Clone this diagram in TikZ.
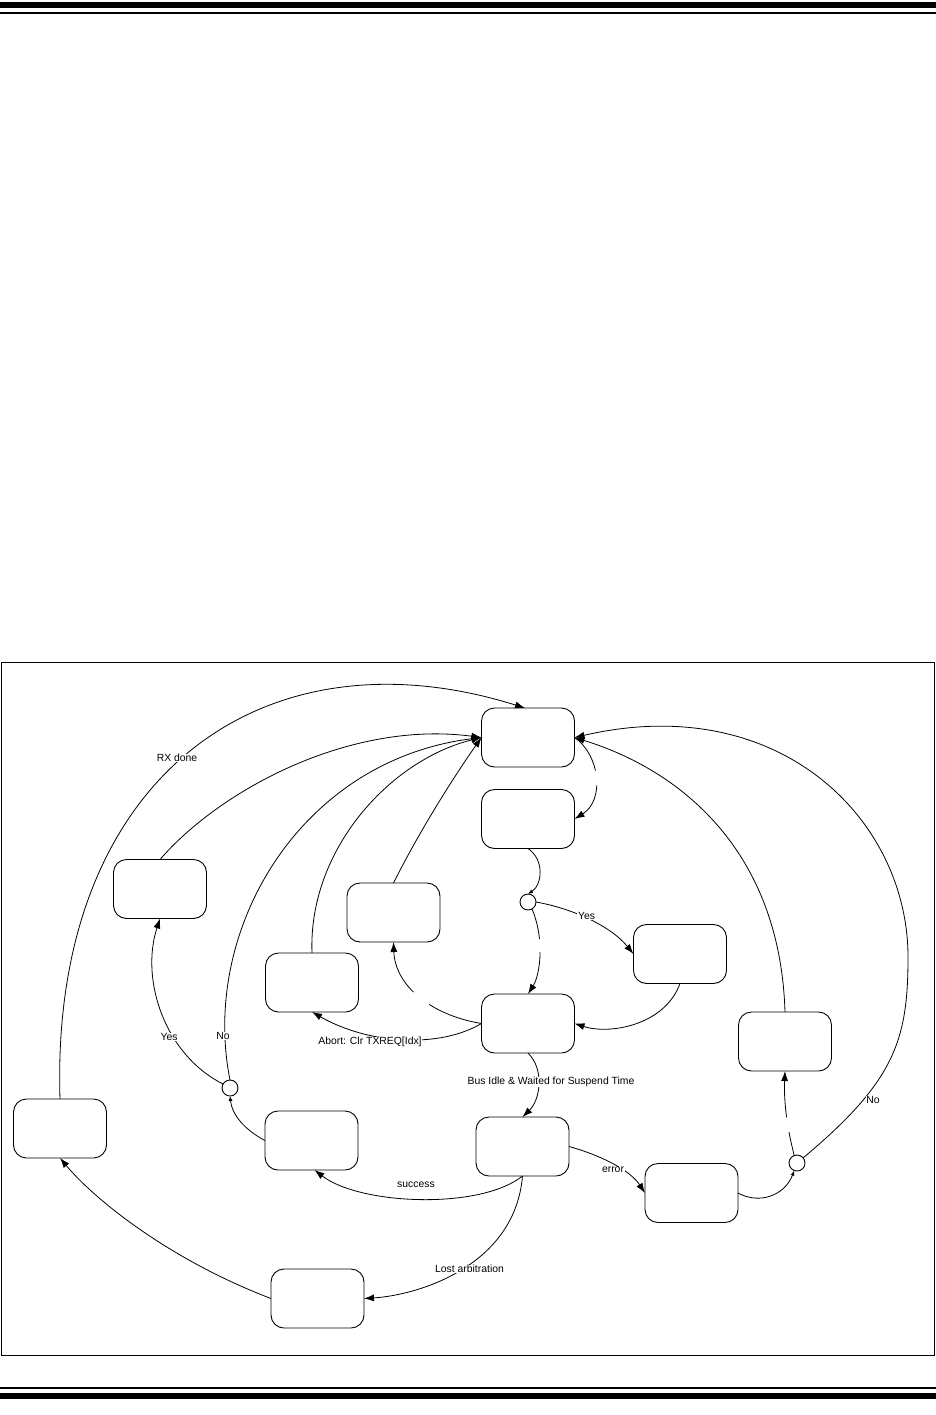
\documentclass[tikz,border=0pt]{standalone}
\usepackage{fontspec}
\setmainfont{Liberation Sans}
\usetikzlibrary{arrows.meta,calc}
\begin{document}
\begin{tikzpicture}[x=1pt,y=-1pt,
  state/.style={draw,line width=0.9pt,rounded corners=13pt,minimum width=93pt,minimum height=59pt,inner sep=0pt,outer sep=0pt},
  junc/.style={draw,circle,line width=0.9pt,minimum size=16pt,inner sep=0pt,outer sep=0pt,fill=white},
  conn/.style={line width=0.8pt,-{Latex[length=10pt,width=7pt]}},
  sconn/.style={line width=0.8pt,-{Latex[length=5pt,width=4pt]}},
  lbl/.style={font=\fontsize{10.4}{12}\selectfont,fill=white,inner sep=0.6pt},
  gapA/.style={dash pattern=on 40pt off 15pt on 300pt off 0pt},
  gapB/.style={dash pattern=on 31pt off 13pt on 300pt off 0pt},
  gapC/.style={dash pattern=on 56pt off 20pt on 300pt off 0pt},
  gapD/.style={dash pattern=on 24pt off 15pt on 300pt off 0pt},
]
\useasboundingbox (0,0) rectangle (936,1415);
% page rules
\fill (0,2) rectangle (936,8);
\fill (0,12) rectangle (936,14);
\fill (0,1387) rectangle (936,1389);
\fill (0,1393) rectangle (936,1399);
% frame
\draw[line width=1pt] (1,662) rectangle (934,1355);

% states
\node[state] (A) at (528,737.5) {};
\node[state] (B) at (528,819) {};
\node[junc]  (C1) at (528,902) {};
\node[state] (D) at (680,954) {};
\node[state] (E) at (528,1023.5) {};
\node[state] (F) at (522.5,1146.5) {};
\node[state] (G) at (691.5,1193) {};
\node[junc]  (C3) at (797,1163) {};
\node[state] (H) at (785,1041.5) {};
\node[state] (I) at (312,982.5) {};
\node[state] (J) at (393.5,912.5) {};
\node[state] (K) at (160,889) {};
\node[junc]  (C2) at (230,1088) {};
\node[state] (L) at (311.5,1140.5) {};
\node[state] (M) at (60,1128.5) {};
\node[state] (N) at (317.5,1298.5) {};
\coordinate (rb) at (908,957);

% connectors
\draw[conn] (M.north) .. controls (50,780) and (260,625) .. ([xshift=-3pt]A.north);
\draw[conn] (K.north) .. controls (220,790) and (350,720) .. (A.west);
\draw[conn] (C2.north) .. controls (200,930) and (300,760) .. (A.west);
\draw[conn] (I.north) .. controls (308,850) and (390,760) .. (A.west);
\draw[conn] (J.north) .. controls (420,830) and (455,775) .. (A.west);
\draw[conn,gapA] (A.east) .. controls (600,755) and (605,800) .. (B.east);
\draw[sconn] (B.south) .. controls (545,860) and (542,885) .. (C1.north);
\draw[conn] (C1.east) .. controls (570,908) and (610,925) .. (D.west);
\draw[conn,gapB] (C1.300) .. controls (545,940) and (540,975) .. (E.north);
\draw[conn] (D.south) .. controls (665,1025) and (610,1035) .. (E.east);
\draw[conn] (E.west) .. controls (440,1048) and (370,1045) .. (I.south);
\draw[conn,gapC] (E.west) .. controls (430,1015) and (395,985) .. (J.south);
\draw[conn] (E.south) .. controls (545,1070) and (540,1100) .. (F.north);
\draw[conn] (F.south) .. controls (480,1210) and (360,1205) .. ([xshift=3pt]L.south);
\draw[conn] (F.south) .. controls (515,1265) and (420,1295) .. (N.east);
\draw[conn] (N.west) .. controls (170,1260) and (95,1200) .. (M.south);
\draw[sconn] (L.west) .. controls (245,1130) and (232,1115) .. (C2.south);
\draw[conn] (C2.150) .. controls (165,1055) and (140,980) .. (K.south);
\draw[conn] (F.east) .. controls (600,1155) and (630,1170) .. (G.west);
\draw[sconn] (G.east) .. controls (760,1205) and (785,1195) .. (C3.250);
\draw[conn,gapD] (C3.110) .. controls (785,1120) and (784,1095) .. (H.south);
\draw[conn] (C3.40) .. controls (895,1081) and (908,1040) .. (rb) .. controls (908,820) and (780,690) .. (A.east);
\draw[conn] (H.north) .. controls (780,850) and (680,770) .. (A.east);

% labels
\node[lbl] (t1) at (177,758) {RX done};
\node[lbl] (t2) at (223,1036) {No};
\node[lbl] (t3) at (169,1037) {Yes};
\node[lbl] (t4) at (586.5,916) {Yes};
\node[lbl] (t5) at (370,1042) {Abort: Clr TXREQ[Idx]};
\node[lbl] (t6) at (551,1082) {Bus Idle \& Waited for Suspend Time};
\node[lbl] (t7) at (416,1185) {success};
\node[lbl] (t8) at (613,1170) {error};
\node[lbl] (t9) at (469.5,1269) {Lost arbitration};
\node[lbl] (t10) at (873,1100) {No};
\end{tikzpicture}
\end{document}
